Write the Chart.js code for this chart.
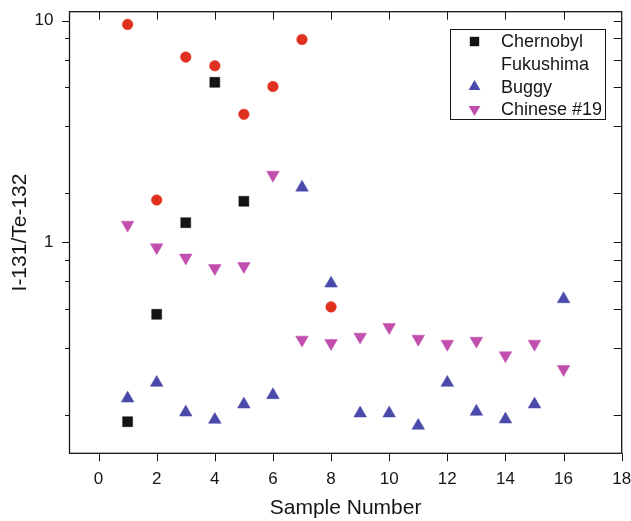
<!DOCTYPE html>
<html>
<head>
<meta charset="utf-8">
<title>I-131/Te-132 by sample</title>
<script src="https://cdn.jsdelivr.net/npm/chart.js@4/dist/chart.umd.min.js"></script>
<style>
  html, body { margin: 0; padding: 0; background: #ffffff; }
  #wrap { width: 631px; height: 521px; }
</style>
</head>
<body>
<div id="wrap"><canvas id="chart" width="631" height="521"></canvas></div>
<script>
// Sample numbers and measured I-131/Te-132 ratios per source
const samplesChernobyl = [1, 2, 3, 4, 5];
const ratioChernobyl   = [0.155, 0.473, 1.226, 5.27, 1.531];

const samplesFukushima = [1, 2, 3, 4, 5, 6, 7, 8];
const ratioFukushima   = [9.62, 1.552, 6.85, 6.26, 3.78, 5.05, 8.23, 0.511];

const samplesBuggy = [1, 2, 3, 4, 5, 6, 7, 8, 9, 10, 11, 12, 13, 14, 15, 16];
const ratioBuggy   = [0.1974, 0.2324, 0.1707, 0.1582, 0.1855, 0.2045, 1.767, 0.652,
                      0.169, 0.169, 0.1487, 0.2324, 0.172, 0.1588, 0.1855, 0.554];

const samplesChinese = [1, 2, 3, 4, 5, 6, 7, 8, 9, 10, 11, 12, 13, 14, 15, 16];
const ratioChinese   = [1.198, 0.947, 0.852, 0.764, 0.78, 2.014, 0.363, 0.3506,
                        0.3744, 0.414, 0.3666, 0.348, 0.359, 0.3085, 0.348, 0.2677];

// Axis ticks
const xTickValues = [0, 2, 4, 6, 8, 10, 12, 14, 16, 18];
const yTickValues = [0.1667, 0.3333, 0.5, 0.6667, 0.8333, 1, 1.667, 3.333, 5, 6.667, 8.333, 10];
const yTickLabels = { 1: '1', 10: '10' };

const FONT = '"Liberation Sans", Arial, Helvetica, sans-serif';
const INK = '#161616';

function toPoints(xs, ys) {
  return xs.map((x, i) => ({ x: x, y: ys[i] }));
}

// Frame, tick marks on all four sides and the boxed legend
const framePlugin = {
  id: 'frame',
  afterDraw(chart) {
    const { ctx, chartArea: a, scales } = chart;
    const xs = scales.x, ys = scales.y;
    ctx.save();
    ctx.strokeStyle = INK;
    ctx.lineWidth = 1;

    // x ticks: bottom outward, top inward
    xTickValues.forEach(v => {
      const px = Math.round(xs.getPixelForValue(v)) + 0.5;
      ctx.beginPath();
      ctx.moveTo(px, a.bottom); ctx.lineTo(px, a.bottom + 8);
      if (v !== 18) { ctx.moveTo(px, a.top); ctx.lineTo(px, a.top + 8); }
      ctx.stroke();
    });

    // y ticks: left outward (major longer), right inward
    yTickValues.forEach(v => {
      const py = Math.round(ys.getPixelForValue(v)) + 0.5;
      const major = (v === 1 || v === 10);
      ctx.beginPath();
      ctx.moveTo(a.left, py); ctx.lineTo(a.left - (major ? 7.5 : 4.5), py);
      ctx.moveTo(a.right, py); ctx.lineTo(a.right - 8, py);
      ctx.stroke();
    });

    // plot frame
    ctx.lineWidth = 1.3;
    ctx.strokeRect(a.left, a.top, a.right - a.left, a.bottom - a.top);

    // legend box
    const lx = 450.5, ly = 29.5, lw = 155, lh = 90;
    ctx.lineWidth = 1;
    ctx.fillStyle = '#ffffff';
    ctx.fillRect(lx, ly, lw, lh);
    ctx.strokeRect(lx, ly, lw, lh);

    ctx.font = '18px ' + FONT;
    ctx.textAlign = 'left';
    ctx.textBaseline = 'middle';
    chart.data.datasets.forEach((ds, i) => {
      const cy = 41.5 + i * 22.6;
      const cx = 474.5;
      ctx.fillStyle = ds.backgroundColor;
      if (ds.legendMarker) {
        ctx.beginPath();
        if (ds.pointStyle === 'rect') {
          ctx.rect(cx - 4.7, cy - 4.7, 9.4, 9.4);
        } else if (ds.pointStyle === 'triangle') {
          const r = 6.8;
          const s = ds.rotation === 180 ? -1 : 1;
          ctx.moveTo(cx, cy - s * r);
          ctx.lineTo(cx + r * 0.866, cy + s * r / 2);
          ctx.lineTo(cx - r * 0.866, cy + s * r / 2);
          ctx.closePath();
        } else {
          ctx.arc(cx, cy, 5, 0, Math.PI * 2);
        }
        ctx.fill();
      }
      ctx.fillStyle = INK;
      ctx.fillText(ds.label, 501, cy + 1);
    });
    ctx.restore();
  }
};

Chart.defaults.font.family = FONT;
Chart.defaults.color = INK;

new Chart(document.getElementById('chart'), {
  type: 'scatter',
  data: {
    datasets: [
      {
        label: 'Chernobyl',
        data: toPoints(samplesChernobyl, ratioChernobyl),
        pointStyle: 'rect', pointRadius: 7.07,
        backgroundColor: '#141414', borderColor: '#141414', borderWidth: 0.5,
        legendMarker: true
      },
      {
        label: 'Fukushima',
        data: toPoints(samplesFukushima, ratioFukushima),
        pointStyle: 'circle', pointRadius: 5.3,
        backgroundColor: '#e0301e', borderColor: '#e0301e', borderWidth: 0.5,
        legendMarker: false
      },
      {
        label: 'Buggy',
        data: toPoints(samplesBuggy, ratioBuggy),
        pointStyle: 'triangle', pointRadius: 7.3,
        backgroundColor: '#4a4aaa', borderColor: '#4a4aaa', borderWidth: 0.5,
        legendMarker: true
      },
      {
        label: 'Chinese #19',
        data: toPoints(samplesChinese, ratioChinese),
        pointStyle: 'triangle', rotation: 180, pointRadius: 7.3,
        backgroundColor: '#c24fae', borderColor: '#c24fae', borderWidth: 0.5,
        legendMarker: true
      }
    ]
  },
  options: {
    responsive: false,
    animation: false,
    events: [],
    layout: { padding: { top: 11.7, right: 9.3, left: 0, bottom: 0 } },
    plugins: {
      legend: { display: false },
      tooltip: { enabled: false }
    },
    scales: {
      x: {
        type: 'linear',
        min: -1, max: 18,
        grid: { display: false, drawTicks: false },
        border: { display: false },
        afterBuildTicks(scale) {
          scale.ticks = xTickValues.map(v => ({ value: v }));
        },
        afterFit(scale) {
          scale.height = 67.7;
          scale.paddingLeft = 0; scale.paddingRight = 0;
        },
        ticks: {
          autoSkip: false, maxRotation: 0, padding: 16,
          font: { size: 17 }, color: INK,
          callback: v => String(v)
        },
        title: {
          display: true, text: 'Sample Number',
          font: { size: 21 }, color: INK,
          padding: { top: 0.4, bottom: 0 }
        }
      },
      y: {
        type: 'logarithmic',
        min: 0.1116, max: 10.98,
        grid: { display: false, drawTicks: false },
        border: { display: false },
        afterBuildTicks(scale) {
          scale.ticks = yTickValues.map(v => ({ value: v }));
        },
        afterFit(scale) {
          scale.width = 69.5;
          scale.paddingTop = 0; scale.paddingBottom = 0;
        },
        ticks: {
          autoSkip: false, padding: 16,
          font: { size: 17 }, color: INK,
          callback: v => yTickLabels[v] || ''
        },
        title: {
          display: true, text: 'I-131/Te-132',
          font: { size: 21 }, color: INK,
          padding: { top: 8, bottom: 0 }
        }
      }
    }
  },
  plugins: [framePlugin]
});
</script>
</body>
</html>
